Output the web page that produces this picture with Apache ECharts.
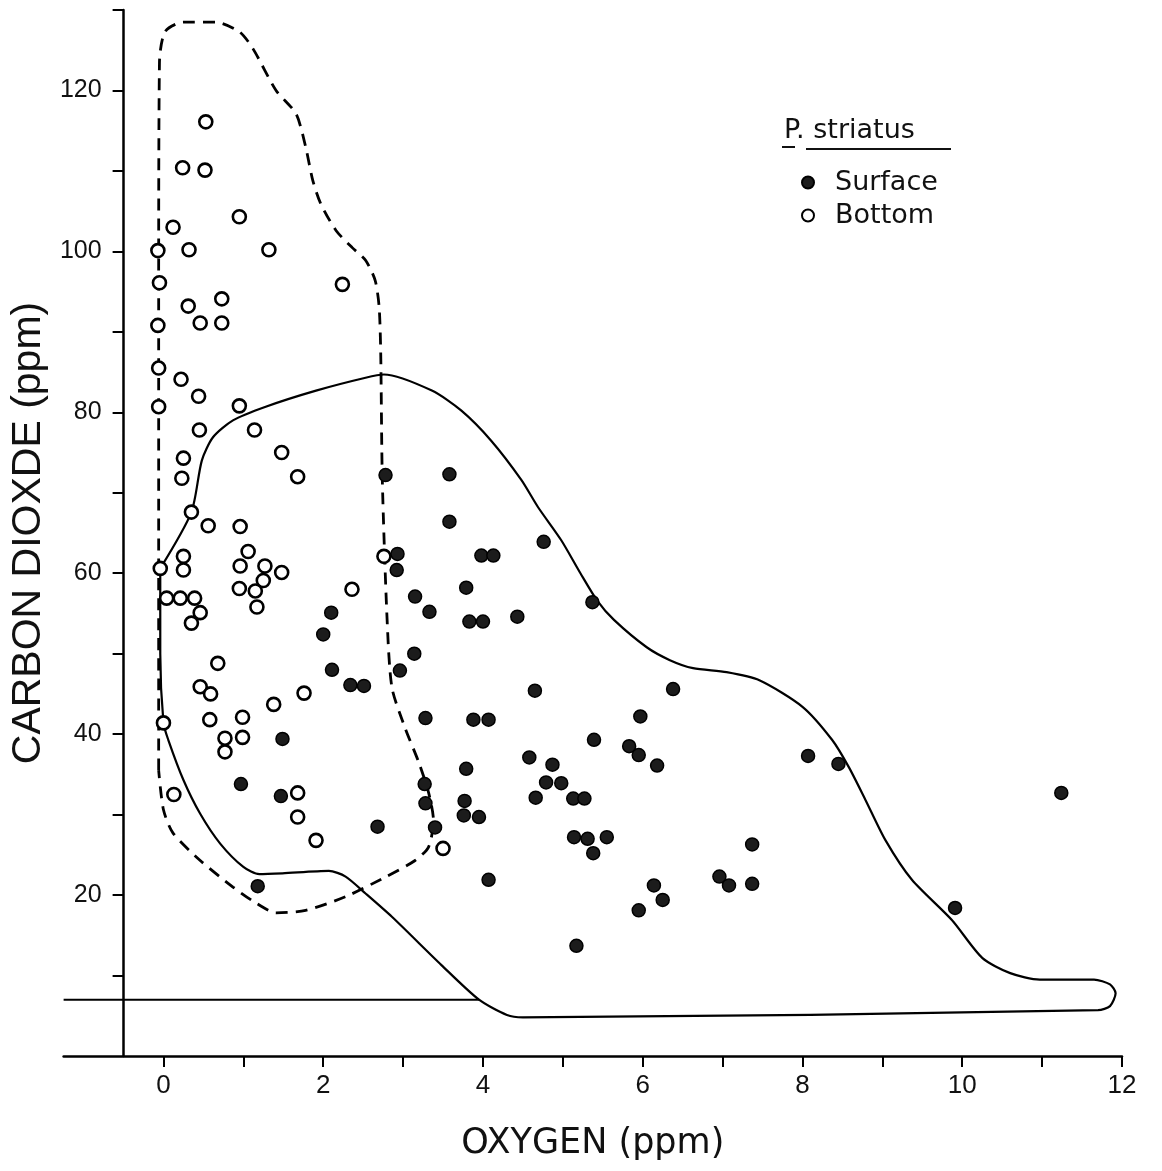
<!DOCTYPE html>
<html>
<head>
<meta charset="utf-8">
<script src="https://cdn.jsdelivr.net/npm/echarts@6/dist/echarts.min.js"></script>
<style>
  html, body { margin: 0; padding: 0; background: #fff; }
  #chart { width: 1162px; height: 1171px; }
</style>
</head>
<body>
<div id="chart"></div>
<script>
// ---- Data ----
const xTickValues = [0,1,2,3,4,5,6,7,8,9,10,11,12];
const xLabelValues = [0,2,4,6,8,10,12];
const yTickValues = [10,20,30,40,50,60,70,80,90,100,110,120,130];
const yLabelValues = [20,40,60,80,100,120];

// Surface (filled dots): [oxygen, carbon dioxide]
const surfacePoints = [
  [2.78,72.2],[2.93,62.4],[2.92,60.4],[3.15,57.1],[2.10,55.1],[2.00,52.4],[3.33,55.2],
  [3.58,72.3],[3.58,66.4],[4.76,63.9],[3.98,62.2],[4.13,62.2],[3.79,58.2],[3.83,54.0],
  [4.00,54.0],[4.43,54.6],[5.37,56.4],[3.14,50.0],[2.96,47.9],[4.65,45.4],[6.38,45.6],
  [2.11,48.0],[2.34,46.1],[2.51,46.0],[3.28,42.0],[1.49,39.4],[0.97,33.8],[1.47,32.3],
  [2.68,28.5],[3.27,33.8],[3.28,31.4],[3.40,28.4],[1.18,21.1],[3.88,41.8],[4.07,41.8],
  [3.79,35.7],[3.77,31.7],[3.76,29.9],[3.95,29.7],[4.07,21.9],[4.58,37.1],[4.87,36.2],
  [4.79,34.0],[4.98,33.9],[4.66,32.1],[5.13,32.0],[5.27,32.0],[5.39,39.3],[5.97,42.2],
  [5.83,38.5],[5.95,37.4],[6.18,36.1],[5.14,27.2],[5.31,27.0],[5.55,27.2],[5.38,25.2],
  [6.14,21.2],[6.25,19.4],[5.95,18.1],[5.17,13.7],[8.07,37.3],[8.45,36.3],[11.24,32.7],
  [7.37,26.3],[6.96,22.3],[7.08,21.2],[7.37,21.4],[9.91,18.4]
];

// Bottom (open circles)
const bottomPoints = [
  [0.53,116.1],[0.24,110.4],[0.52,110.1],[0.95,104.3],[0.12,103.0],[-0.07,100.1],[0.32,100.2],
  [1.32,100.2],[-0.05,96.1],[2.24,95.9],[0.73,94.1],[0.31,93.2],[0.46,91.1],[0.73,91.1],
  [-0.07,90.8],[-0.06,85.5],[0.22,84.1],[0.44,82.0],[-0.06,80.7],[0.95,80.8],[0.45,77.8],
  [1.14,77.8],[1.48,75.0],[0.25,74.3],[0.23,71.8],[1.68,72.0],[0.35,67.6],[0.56,65.9],
  [0.96,65.8],[1.06,62.7],[0.25,62.1],[2.76,62.1],[-0.04,60.6],[0.25,60.4],[0.96,60.9],
  [1.27,60.9],[1.48,60.1],[1.25,59.1],[0.95,58.1],[1.15,57.8],[2.36,58.0],[0.04,56.9],
  [0.21,56.9],[0.39,56.9],[0.46,55.1],[1.17,55.8],[0.35,53.8],[0.68,48.8],[1.76,45.1],
  [0.46,45.9],[0.59,45.0],[1.38,43.7],[0.58,41.8],[0.99,42.1],[0.00,41.4],[0.77,39.5],
  [0.77,37.8],[0.99,39.6],[1.68,32.7],[0.13,32.5],[1.68,29.7],[1.91,26.8],[3.50,25.8]
];

// Dashed envelope (bottom samples)
const dashedOutline = [
  [-0.06,35.5],[-0.06,60],[-0.06,95],[-0.05,123.5],[0.02,127.3],[0.25,128.5],[0.65,128.5],
  [0.95,127.3],[1.12,125.2],[1.41,120.0],[1.66,117.1],[1.78,113.0],[1.87,108.8],[1.97,105.9],
  [2.16,102.6],[2.36,100.5],[2.53,98.9],[2.65,96.4],[2.70,93.1],[2.72,87.3],[2.74,71.6],
  [2.80,54.2],[2.86,45.8],[3.02,40.9],[3.20,36.4],[3.32,32.7],[3.38,29.3],[3.32,26.0],
  [3.15,24.3],[2.77,22.2],[2.28,19.8],[1.78,18.1],[1.41,17.8],[1.16,19.0],[0.87,21.0],
  [0.46,24.3],[0.12,27.7],[0.00,30.6],[-0.06,35.5]
];

// Solid envelope (surface samples)
const solidOutline = [
  [-0.04,60.6],[0.35,67.6],[0.48,74.0],[0.62,76.9],[0.87,79.0],[1.28,80.7],[1.91,82.7],
  [2.53,84.3],[2.76,84.7],[3.36,82.7],[3.73,80.2],[4.10,76.5],[4.48,71.6],[4.69,68.2],
  [4.98,64.1],[5.22,60.0],[5.43,56.6],[5.64,54.2],[6.05,50.8],[6.34,49.2],[6.63,48.2],
  [7.05,47.7],[7.46,46.7],[8.00,43.4],[8.37,39.3],[8.58,35.9],[8.79,31.8],[9.04,26.8],
  [9.37,21.9],[9.87,16.9],[10.25,12.2],[10.60,10.3],[10.97,9.5],[11.65,9.5],[11.85,8.9],
  [11.92,7.8],[11.85,6.2],[11.70,5.7],[4.50,4.8],[4.30,5.1],[3.95,7.0],[3.48,11.3],
  [2.86,17.3],[2.53,20.2],[2.28,22.3],[2.07,23.0],[1.49,22.7],[1.20,22.6],[1.00,23.5],
  [0.71,26.4],[0.46,30.1],[0.25,34.3],[0.06,39.3],[0.00,41.4],[-0.04,50.0],[-0.04,60.6]
];

// Horizontal reference line near the bottom (starts left of the y-axis)
const baseLine = [[-1.25,7.0],[3.95,7.0]];

const FONT = '"Liberation Sans", Arial, sans-serif';
const WIDE = '"DejaVu Sans", "Liberation Sans", sans-serif';

const chart = echarts.init(document.getElementById('chart'), null, {renderer: 'canvas'});
const option = {
  animation: false,
  backgroundColor: '#ffffff',
  title: {
    text: 'P. striatus',
    left: 779, top: 112,
    textStyle: { fontFamily: WIDE, fontSize: 27, fontWeight: 'normal', color: '#111' }
  },
  legend: {
    orient: 'vertical',
    left: 796, top: 164,
    itemGap: 6,
    itemWidth: 12, itemHeight: 12,
    data: [
      { name: 'Surface', icon: 'circle' },
      { name: 'Bottom', icon: 'circle' }
    ],
    textStyle: { fontFamily: WIDE, fontSize: 27, color: '#111', padding: [0,0,0,16] }
  },
  graphic: [
    { type: 'rect', left: 782, top: 146, shape: { width: 13, height: 2 }, style: { fill: '#111' } },
    { type: 'rect', left: 806, top: 148, shape: { width: 145, height: 2 }, style: { fill: '#111' } }
  ],
  grid: { left: 60, right: 40, top: 10, bottom: 115 },
  xAxis: {
    type: 'value', min: -1.25, max: 12,
    splitLine: { show: false },
    axisLine: { onZero: false, lineStyle: { color: '#000', width: 2.5 } },
    axisTick: { customValues: xTickValues, length: 11, lineStyle: { color: '#000', width: 2 } },
    axisLabel: { customValues: xLabelValues, margin: 17, fontSize: 26, color: '#111', fontFamily: FONT },
    name: 'OXYGEN (ppm)', nameLocation: 'middle', nameGap: 70,
    nameTextStyle: { fontSize: 35, color: '#111', fontFamily: WIDE }
  },
  yAxis: {
    type: 'value', min: 0, max: 130, interval: 10,
    offset: -60,
    splitLine: { show: false },
    axisLine: { show: true, onZero: false, lineStyle: { color: '#000', width: 2.5 } },
    axisTick: { show: true, customValues: yTickValues, length: 11, lineStyle: { color: '#000', width: 2 } },
    axisLabel: { customValues: yLabelValues, margin: 22, fontSize: 25, color: '#111', fontFamily: FONT },
    name: 'CARBON DIOXDE (ppm)', nameLocation: 'middle', nameGap: 66, nameRotate: 90,
    nameTextStyle: { fontSize: 41, color: '#111', fontFamily: FONT }
  },
  series: [
    {
      name: 'solidEnvelope', type: 'line', data: solidOutline, smooth: 0.25,
      symbol: 'none', silent: true, z: 1,
      lineStyle: { color: '#000', width: 2.2 }
    },
    {
      name: 'dashedEnvelope', type: 'line', data: dashedOutline, smooth: 0.25,
      symbol: 'none', silent: true, z: 1,
      lineStyle: { color: '#000', width: 2.8, type: [12, 8] }
    },
    {
      name: 'baseLine', type: 'line', data: baseLine,
      symbol: 'none', silent: true, z: 1,
      lineStyle: { color: '#000', width: 2 }
    },
    {
      name: 'Bottom', type: 'scatter', data: bottomPoints, symbol: 'circle', symbolSize: 13,
      z: 3,
      itemStyle: { color: '#ffffff', borderColor: '#000', borderWidth: 2.6, opacity: 1 }
    },
    {
      name: 'Surface', type: 'scatter', data: surfacePoints, symbol: 'circle', symbolSize: 13,
      z: 4,
      itemStyle: { color: '#1c1c1c', borderColor: '#000', borderWidth: 1.5, opacity: 1 }
    }
  ]
};
chart.setOption(option);
</script>
</body>
</html>
